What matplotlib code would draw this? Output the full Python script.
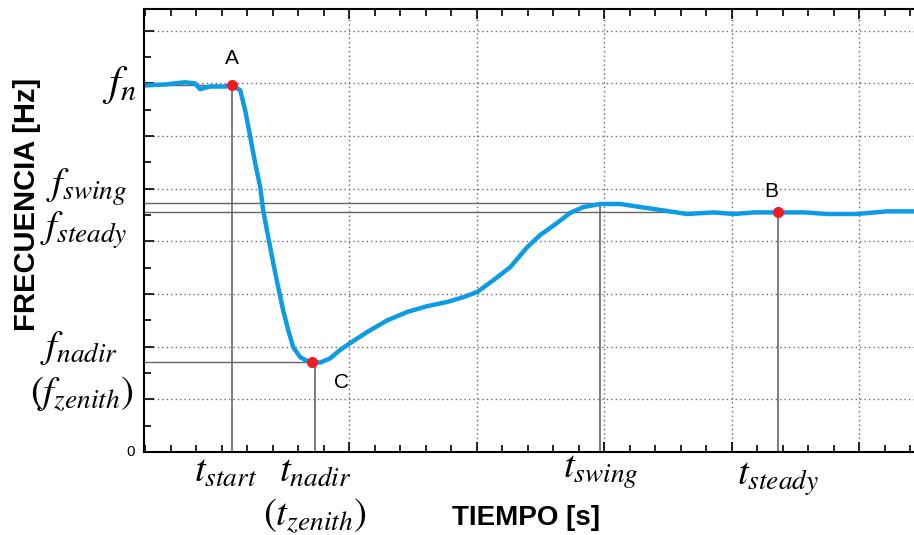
import numpy as np
import matplotlib
matplotlib.use("Agg")
import matplotlib.pyplot as plt
from matplotlib.ticker import FixedLocator, MultipleLocator

plt.rcParams['mathtext.fontset'] = 'stix'
plt.rcParams['font.family'] = ['Liberation Sans', 'DejaVu Sans']

# frequency curve (time, frequency) in grid units
t = [0.39, 0.56, 0.71, 0.79, 0.83, 0.91, 1.03, 1.08, 1.145, 1.184, 1.224,
     1.263, 1.302, 1.325, 1.365, 1.404, 1.443, 1.482, 1.522, 1.561, 1.616,
     1.678, 1.718, 1.773, 1.851, 1.929, 2.008, 2.141, 2.298, 2.455, 2.612,
     2.769, 2.894, 3.004, 3.129, 3.263, 3.396, 3.498, 3.631, 3.733, 3.835,
     3.969, 4.125, 4.29, 4.65, 4.86, 5.02, 5.18, 5.36, 5.57, 5.75, 5.98,
     6.22, 6.43]
f = [6.96, 6.98, 7.02, 7.00, 6.89, 6.94, 6.94, 6.96, 6.87, 6.49, 5.98,
     5.48, 5.03, 4.59, 4.08, 3.59, 3.13, 2.69, 2.31, 1.99, 1.80,
     1.72, 1.71, 1.70, 1.78, 1.94, 2.07, 2.28, 2.50, 2.66, 2.77,
     2.85, 2.94, 3.04, 3.26, 3.51, 3.89, 4.12, 4.35, 4.54, 4.65,
     4.71, 4.71, 4.65, 4.52, 4.55, 4.52, 4.55, 4.55, 4.55, 4.52, 4.52,
     4.57, 4.57]

# key points
t_start, f_n = 1.08, 6.96
t_nadir, f_nadir = 1.71, 1.71
t_swing, f_swing = 3.97, 4.72
t_steady, f_steady = 5.36, 4.55

x_major = [2, 3, 4, 5, 6]

fig = plt.figure(figsize=(9.14, 5.35), dpi=100)
ax = fig.add_axes([0.1575, 0.155, 0.8425, 0.829])
ax.set_xlim(0.39, 6.43)
ax.set_ylim(0, 8.42)

ax.xaxis.set_major_locator(FixedLocator(x_major))
ax.xaxis.set_minor_locator(MultipleLocator(0.2))
ax.yaxis.set_major_locator(MultipleLocator(1))
ax.yaxis.set_minor_locator(MultipleLocator(0.5))
ax.tick_params(which='both', direction='in', top=True, right=False,
               labelbottom=False, labelleft=False, width=1.2)
ax.tick_params(which='major', length=7)
ax.tick_params(which='minor', length=5)
ax.grid(True, which='major', color='#666666', linestyle=(0, (1, 2.2)), linewidth=1)
ax.spines['right'].set_visible(False)
for s in ['left', 'bottom', 'top']:
    ax.spines[s].set_linewidth(1.5)

gc = '#666666'
# horizontal guides
ax.plot([0.39, t_start], [f_n, f_n], color=gc, lw=1)
ax.plot([0.39, t_swing], [f_swing, f_swing], color=gc, lw=1)
ax.plot([0.39, t_steady], [f_steady, f_steady], color=gc, lw=1)
ax.plot([0.39, t_nadir], [f_nadir, f_nadir], color=gc, lw=1)
# vertical guides
ax.plot([t_start, t_start], [0, f_n], color=gc, lw=1.2)
ax.plot([t_nadir + 0.02, t_nadir + 0.02], [0, f_nadir], color=gc, lw=1.2)
ax.plot([t_swing, t_swing], [0, f_swing], color=gc, lw=1.2)
ax.plot([t_steady, t_steady], [0, f_steady], color=gc, lw=1.2)

ax.plot(t, f, color='#0d9be3', lw=3.2, solid_capstyle='round', solid_joinstyle='round')
ax.plot([t_start, t_steady, t_nadir], [f_n, f_steady, f_nadir], 'o',
        color='#ee1c25', ms=7, zorder=5)

ax.text(t_start, f_n + 0.33, 'A', ha='center', va='bottom', fontsize=15)
ax.text(t_steady - 0.05, f_steady + 0.22, 'B', ha='center', va='bottom', fontsize=15)
ax.text(t_nadir + 0.23, f_nadir - 0.2, 'C', ha='center', va='top', fontsize=15)

# y labels
yt = ax.get_yaxis_transform()
ax.text(-0.009, 6.96, r'$f_n$', transform=yt, ha='right', va='center', fontsize=31)
ax.text(-0.022, 5.03, r'$f_{swing}$', transform=yt, ha='right', va='center', fontsize=28)
ax.text(-0.021, 4.21, r'$f_{steady}$', transform=yt, ha='right', va='center', fontsize=28)
ax.text(-0.034, 1.97, r'$f_{nadir}$', transform=yt, ha='right', va='center', fontsize=28)
ax.text(-0.014, 1.12, r'$(f_{zenith})$', transform=yt, ha='right', va='center', fontsize=28)
ax.text(-0.012, 0.0, '0', transform=yt, ha='right', va='center', fontsize=11)

# x labels
xt = ax.get_xaxis_transform()
ax.text(t_start - 0.05, -0.003, r'$t_{start}$', transform=xt, ha='center', va='top', fontsize=28)
ax.text(t_nadir + 0.02, -0.003, r'$t_{nadir}$', transform=xt, ha='center', va='top', fontsize=28)
ax.text(t_nadir + 0.02, -0.1, r'$(t_{zenith})$', transform=xt, ha='center', va='top', fontsize=28)
ax.text(t_swing, -0.003, r'$t_{swing}$', transform=xt, ha='center', va='top', fontsize=28)
ax.text(t_steady, -0.018, r'$t_{steady}$', transform=xt, ha='center', va='top', fontsize=28)

fig.text(0.575, 0.032, 'TIEMPO [s]', ha='center', va='center', fontsize=20, fontweight='bold')
fig.text(0.029, 0.617, 'FRECUENCIA [Hz]', ha='center', va='center', rotation=90,
         fontsize=21, fontweight='bold')

fig.savefig('out.png', dpi=100)
